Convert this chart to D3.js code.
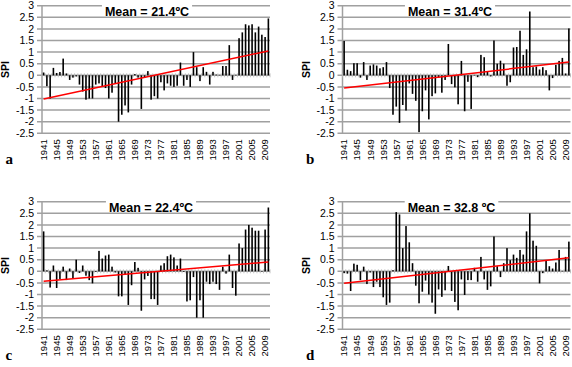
<!DOCTYPE html>
<html>
<head>
<meta charset="utf-8">
<script src="https://cdn.jsdelivr.net/npm/d3@7"></script>
<style>
  body { margin: 0; background: #fff; }
  svg { display: block; }
</style>
</head>
<body>
<div id="chart"></div>
<script>
// categories: one bar per year
var years = d3.range(1941, 2011);
var yearLabels = [1941, 1945, 1949, 1953, 1957, 1961, 1965, 1969, 1973, 1977,
                  1981, 1985, 1989, 1993, 1997, 2001, 2005, 2009];
var yTicks = [3, 2.5, 2, 1.5, 1, 0.5, 0, -0.5, -1, -1.5, -2, -2.5];

// SPI values
var spiA = [0.12, -0.47, -1.0, 0.32, 0.1, 0.14, 0.72, 0.08, -0.2, -0.1,
            -0.05, -0.4, -0.7, -1.05, -1.0, -1.0, -0.4, -0.35, -0.5, -0.55,
            -1.0, -0.75, -0.35, -2.0, -1.7, -1.3, -1.6, -0.4, 0.05, -0.1,
            -1.45, -0.1, 0.18, -1.05, -0.9, -1.0, -0.3, -0.65, -0.35, -0.45,
            -0.5, -0.45, 0.55, -0.45, -0.2, -0.5, 1.0, 0.35, -0.25, 0.35,
            0.15, -0.4, 0.15, 0.03, 0.02, 0.4, 0.4, 1.3, -0.2, 0.02,
            1.6, 1.85, 2.2, 2.15, 2.2, 1.85, 2.1, 1.75, 1.65, 2.45];
var spiB = [1.48, 0.24, 0.18, 0.52, 0.52, -0.1, 0.57, -0.2, 0.42, 0.47,
            0.42, 0.3, 0.35, 0.57, -0.55, -1.7, -1.35, -2.05, -1.28, -1.52,
            -0.35, -0.8, -1.1, -2.45, -1.55, -0.65, -1.9, -0.9, -0.78, -0.1,
            -0.75, -0.2, 1.35, -0.38, -0.52, -1.25, 0.62, -1.55, -0.28, -1.45,
            0.02, -0.08, 0.88, 0.78, 0.15, -0.05, 1.5, 0.5, 0.63, 0.5,
            -0.45, -0.3, 1.2, 1.22, 1.92, 0.88, 1.12, 2.75, 0.35, 0.38,
            0.25, 0.35, 0.22, -0.65, -0.12, 0.45, 0.62, 0.75, 0.08, 2.02];
var spiC = [1.72, 0.04, -0.7, 0.25, -0.72, -0.33, 0.2, -0.38, 0.12, -0.3,
            0.5, -0.07, 0.25, -0.19, -0.38, -0.52, -0.03, 0.88, 0.55, 0.68,
            0.72, 0.2, -0.05, -1.08, -1.08, -0.15, -1.45, -0.6, 0.4, 0.15,
            -1.7, -0.35, -0.2, -1.2, -1.2, -1.45, 0.25, 0.35, 0.65, 0.72,
            0.6, 0.25, 0.55, -0.03, -1.3, -1.25, -0.25, -2.0, -1.25, -2.0,
            -0.45, -0.55, -0.45, -0.55, -0.8, 0.2, -0.1, 0.72, -0.72, -1.05,
            1.2, 1.0, 1.8, 2.0, 1.88, 1.75, 1.75, -0.02, 1.8, 2.75];
var spiD = [-0.08, -0.1, -0.85, 0.33, 0.28, -0.38, 0.2, -0.55, -0.05, -0.68,
            -0.45, -0.68, -1.12, -1.45, -1.35, 0.05, 2.55, 2.45, 1.0, 1.95,
            1.25, 0.35, -0.62, -1.38, -0.88, -0.4, -1.0, -1.35, -1.83, -0.78,
            -1.1, -0.82, 0.23, -0.85, -1.32, -1.68, -0.35, -1.02, -0.38, -0.38,
            0.15, -0.45, 0.62, -0.35, -0.8, -0.65, 1.5, 0.22, -0.25, 0.35,
            1.0, 0.48, 0.72, 0.58, 0.92, 0.72, 1.72, 2.5, 1.32, 1.1,
            -0.52, -0.08, 0.45, 0.22, 0.12, 0.38, 0.92, 0.02, 0.62, 1.28];

// linear trend, value at first and last year
var trendA = [-1.02, 1.05];
var trendB = [-0.55, 0.57];
var trendC = [-0.43, 0.4];
var trendD = [-0.52, 0.58];

var meanLabels = ["Mean = 21.4ºC", "Mean = 31.4ºC", "Mean = 22.4ºC", "Mean = 32.8 ºC"];
var panelLetters = ["a", "b", "c", "d"];

var W = 572, H = 367;
var svg = d3.select("#chart").append("svg")
    .attr("width", W)
    .attr("height", H);

var gridColor = "#a0a0a0";
var font = "'Liberation Sans', Arial, sans-serif";

// layout of the four panels
var panels = [
    { values: spiA, trend: trendA, title: meanLabels[0], letter: panelLetters[0], ox: 0, oy: 0, titleX: 105 },
    { values: spiB, trend: trendB, title: meanLabels[1], letter: panelLetters[1], ox: 300.5, oy: 0, titleX: 107.5 },
    { values: spiC, trend: trendC, title: meanLabels[2], letter: panelLetters[2], ox: 0, oy: 196, titleX: 109 },
    { values: spiD, trend: trendD, title: meanLabels[3], letter: panelLetters[3], ox: 300.5, oy: 196, titleX: 109 }
];

panels.forEach(function (p) {
    var left = 42 + p.ox, right = 270 + p.ox;
    var top = 5.7 + p.oy, bottom = 133.3 + p.oy;

    var x = d3.scaleBand()
        .domain(years)
        .range([left, right])
        .padding(0);

    var y = d3.scaleLinear()
        .domain([-2.5, 3])
        .range([bottom, top]);

    var g = svg.append("g");

    // gridlines + little ticks on the left
    g.selectAll(".grid")
        .data(yTicks)
        .join("line")
        .attr("class", "grid")
        .attr("x1", left - 5)
        .attr("x2", right)
        .attr("y1", d => y(d))
        .attr("y2", d => y(d))
        .attr("stroke", gridColor)
        .attr("stroke-width", 1.5);

    // y axis line
    g.append("line")
        .attr("x1", left).attr("x2", left)
        .attr("y1", top).attr("y2", bottom)
        .attr("stroke", gridColor)
        .attr("stroke-width", 1.5);

    // y tick labels
    g.selectAll(".ylab")
        .data(yTicks)
        .join("text")
        .attr("class", "ylab")
        .attr("x", left - 8)
        .attr("y", d => y(d))
        .attr("dy", "0.35em")
        .attr("text-anchor", "end")
        .attr("font-family", font)
        .attr("font-size", 10.5)
        .attr("fill", "#000")
        .text(d => d);

    // category axis ticks along the zero line
    g.selectAll(".xtick")
        .data(years.concat([years[years.length - 1] + 1]))
        .join("line")
        .attr("class", "xtick")
        .attr("x1", (d, i) => left + i * x.step())
        .attr("x2", (d, i) => left + i * x.step())
        .attr("y1", y(0) - 2)
        .attr("y2", y(0) + 2)
        .attr("stroke", "#b5b5b5")
        .attr("stroke-width", 0.8);

    // bars
    g.selectAll(".bar")
        .data(p.values)
        .join("rect")
        .attr("class", "bar")
        .attr("x", (d, i) => x(years[i]) + x.bandwidth() / 2 - 0.8)
        .attr("width", 1.6)
        .attr("y", d => y(Math.max(0, d)))
        .attr("height", d => Math.abs(y(d) - y(0)))
        .attr("fill", "#000");

    // title with white box behind it
    var title = g.append("text")
        .attr("x", left + p.titleX)
        .attr("y", top + 10)
        .attr("text-anchor", "middle")
        .attr("font-family", font)
        .attr("font-weight", "bold")
        .attr("font-size", 12.5)
        .attr("fill", "#000")
        .text(p.title);
    var bb = title.node().getBBox();
    g.insert("rect", "text")
        .attr("x", bb.x - 3)
        .attr("y", top - 2)
        .attr("width", bb.width + 6)
        .attr("height", 5)
        .attr("fill", "#fff");

    // trend line
    g.append("line")
        .attr("x1", x(years[0]) + x.bandwidth() / 2)
        .attr("x2", x(years[years.length - 1]) + x.bandwidth() / 2)
        .attr("y1", y(p.trend[0]))
        .attr("y2", y(p.trend[1]))
        .attr("stroke", "#ff0000")
        .attr("stroke-width", 1.5);

    // rotated year labels
    g.selectAll(".xlab")
        .data(yearLabels)
        .join("text")
        .attr("class", "xlab")
        .attr("transform", d => "translate(" + (x(d) + x.bandwidth() / 2) + "," + (bottom + 6) + ") rotate(-90)")
        .attr("dy", "0.35em")
        .attr("text-anchor", "end")
        .attr("font-family", font)
        .attr("font-size", 9.5)
        .attr("fill", "#000")
        .text(d => d);

    // SPI axis title
    g.append("text")
        .attr("transform", "translate(" + (p.ox + 5.5) + "," + ((top + bottom) / 2) + ") rotate(-90)")
        .attr("dy", "0.35em")
        .attr("text-anchor", "middle")
        .attr("font-family", font)
        .attr("font-weight", "bold")
        .attr("font-size", 10.5)
        .text("SPI");

    // panel letter
    g.append("text")
        .attr("x", p.ox + 5.5)
        .attr("y", bottom + 31)
        .attr("font-family", "'Liberation Serif', 'Times New Roman', serif")
        .attr("font-weight", "bold")
        .attr("font-size", 15)
        .text(p.letter);
});
</script>
</body>
</html>
